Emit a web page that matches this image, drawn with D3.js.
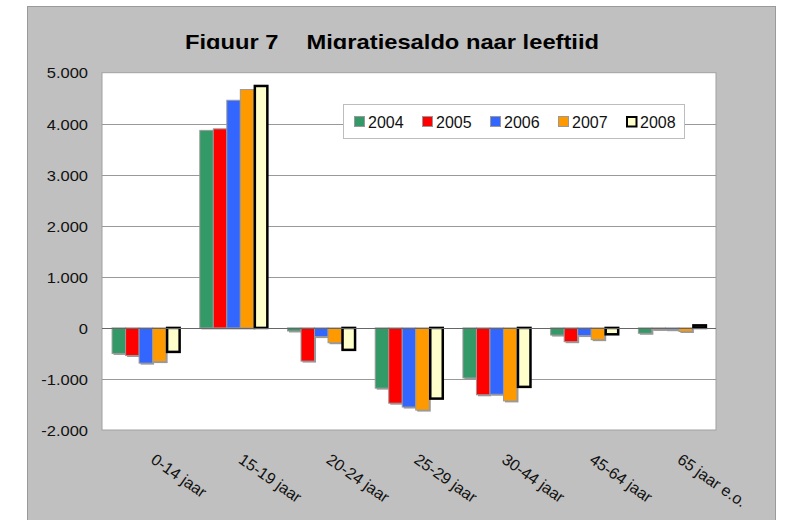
<!DOCTYPE html>
<html lang="nl">
<head>
<meta charset="UTF-8">
<title>Figuur 7 Migratiesaldo naar leeftijd</title>
<script src="https://d3js.org/d3.v7.min.js"></script>
<style>
    body { margin: 0; background: #fff; }
    svg { display: block; font-family: "Liberation Sans", Arial, Helvetica, sans-serif; }
</style>
</head>
<body>
<div id="chart"></div>
<script>

const categories = ["0-14 jaar", "15-19 jaar", "20-24 jaar", "25-29 jaar", "30-44 jaar", "45-64 jaar", "65 jaar e.o."];
const years = ["2004", "2005", "2006", "2007", "2008"];

// migratiesaldo per leeftijdsgroep, per jaar
const v2004 = [-500, 3870, -60, -1180, -980, -140, -105];
const v2005 = [-540, 3900, -650, -1475, -1310, -270, -30];
const v2006 = [-690, 4460, -170, -1550, -1300, -150, -35];
const v2007 = [-660, 4670, -290, -1610, -1430, -230, -70];
const v2008 = [-470, 4740, -430, -1385, -1155, -125, 50];

const yTicks = [-2000, -1000, 0, 1000, 2000, 3000, 4000, 5000];

const series = [v2004, v2005, v2006, v2007, v2008];
const fills = ["#339966", "#ff0000", "#3366ff", "#ff9900", "#ffffcc"];

const W = 789, H = 520;
const plot = {left: 102, right: 716, top: 72.7, bottom: 430};

const svg = d3.select("#chart").append("svg")
    .attr("width", W)
    .attr("height", H);

// grey chart area
svg.append("rect")
    .attr("x", 27.5).attr("y", 6.5)
    .attr("width", 748).attr("height", 520)
    .attr("fill", "#c0c0c0")
    .attr("stroke", "#9a9a9a");

// plot area
svg.append("rect")
    .attr("x", plot.left).attr("y", plot.top)
    .attr("width", plot.right - plot.left).attr("height", plot.bottom - plot.top)
    .attr("fill", "#fff")
    .attr("stroke", "#a0a0a0");

const x0 = d3.scaleBand()
    .domain(categories)
    .range([plot.left, plot.right])
    .paddingInner(0.23)
    .paddingOuter(0.115);

const x1 = d3.scaleBand()
    .domain(years)
    .range([0, x0.bandwidth()]);

const y = d3.scaleLinear()
    .domain([-2000, 5000])
    .range([plot.bottom, plot.top]);

const nl = d3.formatLocale({decimal: ",", thousands: ".", grouping: [3], currency: ["", ""], minus: "-"});
const fmt = nl.format(",");

// gridlines
svg.append("g")
    .selectAll("line")
    .data(yTicks.filter(d => d !== 0 && d !== 5000 && d !== -2000))
    .join("line")
    .attr("x1", plot.left).attr("x2", plot.right)
    .attr("y1", d => Math.round(y(d)) + 0.5).attr("y2", d => Math.round(y(d)) + 0.5)
    .attr("stroke", "#999");

// y axis labels
const yAxis = svg.append("g")
    .attr("transform", `translate(${plot.left},0)`)
    .call(d3.axisLeft(y).tickValues(yTicks).tickFormat(fmt).tickSize(0));
yAxis.select(".domain").remove();
yAxis.selectAll("text")
    .attr("x", null)
    .attr("dy", "0.35em")
    .attr("transform", "translate(-14,0) scale(1.1,1)")
    .attr("font-size", 15)
    .attr("font-family", "'Liberation Sans', Arial, sans-serif")
    .attr("fill", "#111");

// bars
const bars = svg.append("g");
categories.forEach((cat, i) => {
    const g = bars.append("g").attr("transform", `translate(${x0(cat)},0)`);
    years.forEach((yr, s) => {
        const v = series[s][i];
        const top = y(Math.max(0, v)), bot = y(Math.min(0, v));
        const bx = x1(yr), bw = x1.bandwidth();
        if (s < 4) {
            g.append("rect")
                .attr("x", bx + 1.5).attr("y", top + 1.5)
                .attr("width", bw).attr("height", bot - top)
                .attr("fill", "#999");
            g.append("rect")
                .attr("x", bx).attr("y", top)
                .attr("width", bw).attr("height", bot - top)
                .attr("fill", fills[s])
                .attr("stroke", "#9a9a9a")
                .attr("stroke-width", 1);
        } else {
            g.append("rect")
                .attr("x", bx + 1).attr("y", top)
                .attr("width", bw - 1).attr("height", bot - top)
                .attr("fill", fills[s])
                .attr("stroke", "#000")
                .attr("stroke-width", 2.5);
        }
    });
});

// zero line
svg.append("line")
    .attr("x1", plot.left).attr("x2", plot.right)
    .attr("y1", Math.round(y(0)) + 0.5).attr("y2", Math.round(y(0)) + 0.5)
    .attr("stroke", "#666");

// category labels, rotated
svg.append("g")
    .selectAll("text")
    .data(categories)
    .join("text")
    .attr("transform", d => `translate(${x0(d) + x0.bandwidth() / 2 + 4},462) rotate(35)`)
    .attr("font-size", 16)
    .attr("fill", "#111")
    .text(d => d);

// legend
const lg = svg.append("g");
lg.append("rect")
    .attr("x", 343.5).attr("y", 104.5)
    .attr("width", 341).attr("height", 34)
    .attr("fill", "#fff")
    .attr("stroke", "#bdbdbd");
years.forEach((yr, s) => {
    const lx = 354 + s * 68;
    if (s < 4) {
        lg.append("rect")
            .attr("x", lx + 0.5).attr("y", 116.5)
            .attr("width", 10).attr("height", 10)
            .attr("fill", fills[s])
            .attr("stroke", "#999");
    } else {
        lg.append("rect")
            .attr("x", lx + 1).attr("y", 117)
            .attr("width", 9.5).attr("height", 9.5)
            .attr("fill", fills[s])
            .attr("stroke", "#000")
            .attr("stroke-width", 2);
    }
    lg.append("text")
        .attr("x", lx + 14).attr("y", 127.5)
        .attr("font-size", 16)
        .attr("fill", "#111")
        .text(yr);
});

// title, the descenders are cut off in the original
svg.append("clipPath").attr("id", "titleClip")
    .append("rect").attr("x", 0).attr("y", 0).attr("width", W).attr("height", 49);
const tg = svg.append("g").attr("clip-path", "url(#titleClip)");
[["Figuur 7", 185], ["Migratiesaldo naar leeftijd", 306.5]].forEach(([t, tx]) => {
    tg.append("text")
        .attr("transform", `translate(${tx},48.5) scale(1.13,1)`)
        .attr("font-size", 21)
        .attr("font-weight", "bold")
        .attr("fill", "#000")
        .text(t);
});

</script>
</body>
</html>
